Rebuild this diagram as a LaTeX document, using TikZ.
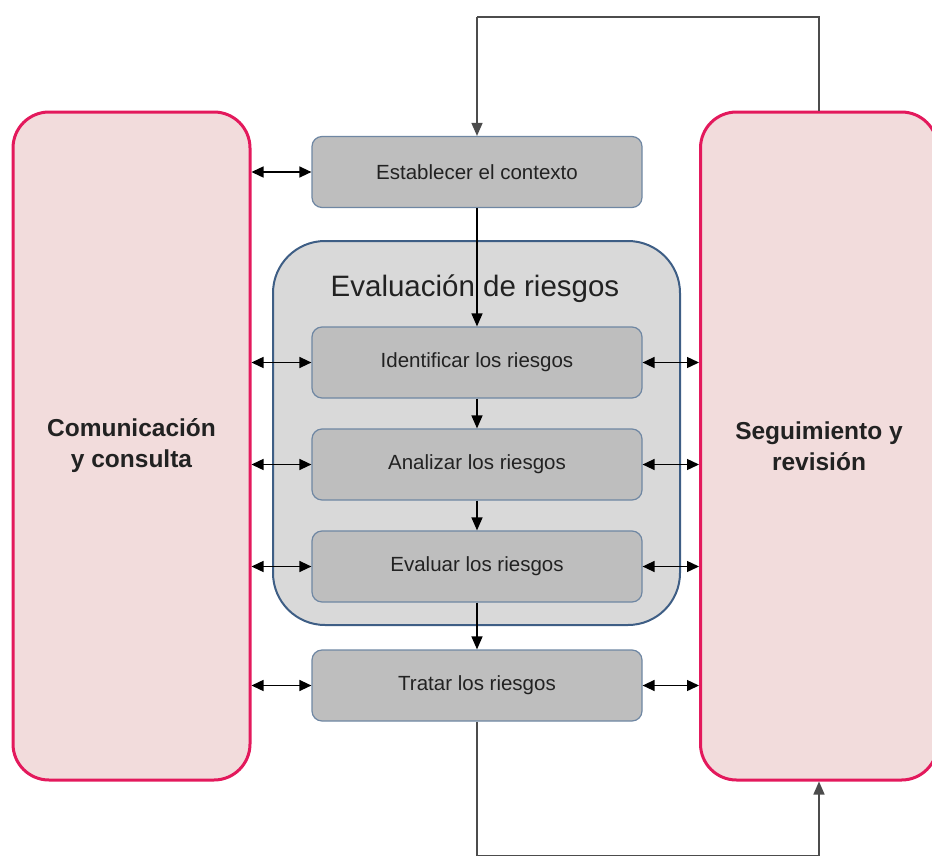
\documentclass[tikz,border=0pt]{standalone}
\usepackage{fontspec}
\setmainfont{Liberation Sans}
\usetikzlibrary{arrows.meta,positioning,calc}
\definecolor{pinkline}{HTML}{E3195C}
\definecolor{pinkfill}{HTML}{F2DCDC}
\definecolor{grayfill}{HTML}{BEBEBE}
\definecolor{grayline}{HTML}{6F87A3}
\definecolor{contfill}{HTML}{D9D9D9}
\definecolor{contline}{HTML}{3E5E85}
\definecolor{txt}{HTML}{222222}
\tikzset{
  sidebox/.style={draw=pinkline, line width=3pt, fill=pinkfill, rounded corners=36pt,
    minimum width=237pt, minimum height=668pt, inner sep=0pt, align=center,
    font=\fontsize{24.5}{31}\selectfont\bfseries, text=txt},
  stepbox/.style={draw=grayline, line width=1.2pt, fill=grayfill, rounded corners=10pt,
    minimum width=330pt, minimum height=71pt, inner sep=0pt,
    font=\fontsize{20.5}{24}\selectfont, text=txt},
  container/.style={draw=contline, line width=2pt, fill=contfill, rounded corners=52pt,
    minimum width=407pt, minimum height=384pt, inner sep=0pt},
  flow/.style={draw=black, line width=1.4pt, -{Triangle[length=13pt,width=11pt]}},
  both/.style={draw=black, line width=1.4pt, {Triangle[length=12pt,width=11pt]}-{Triangle[length=12pt,width=11pt]}},
  loop/.style={draw=black!70, line width=1.5pt},
}
\begin{document}
\begin{tikzpicture}[x=1pt,y=-1pt]
\useasboundingbox (0,0) rectangle (932,857);
\node[sidebox] (com) at (131.5,446) {Comunicación\\y consulta};
\node[sidebox] (seg) at (819,446) {Seguimiento y\\revisión};
\node[container] (eval) at (476.5,433) {};
\node[font=\fontsize{29.5}{32}\selectfont, text=txt] (title) at (475,289) {Evaluación de riesgos};
\node[stepbox] (ctx) at (477,172) {Establecer el contexto};
\node[stepbox] (ident) at (477,362.5) {Identificar los riesgos};
\node[stepbox] (anal) at (477,464.5) {Analizar los riesgos};
\node[stepbox] (evalr) at (477,566.5) {Evaluar los riesgos};
\node[stepbox] (trat) at (477,685.5) {Tratar los riesgos};
\coordinate (tl) at (477,17);
\coordinate (tr) at (819,17);
\coordinate (bl) at (477,855.5);
\coordinate (br) at (819,855.5);
% flow
\draw[flow] (ctx.south) -- (ident.north);
\draw[flow] (ident.south) -- (anal.north);
\draw[flow] (anal.south) -- (evalr.north);
\draw[flow] (evalr.south) -- (trat.north);
% loops
\draw[loop] (seg.north) -- (tr) -- (tl);
\draw[flow, draw=black!70, line width=1.5pt] (tl) -- (ctx.north);
\draw[loop] (trat.south) -- (bl) -- (br);
\draw[flow, draw=black!70, line width=1.5pt] (br) -- (seg.south);
% side arrows
\foreach \n in {ctx,ident,anal,evalr,trat}{
  \draw[both] (com.east |- \n.west) -- (\n.west);
}
\foreach \n in {ident,anal,evalr,trat}{
  \draw[both] (\n.east) -- (seg.west |- \n.east);
}
\end{tikzpicture}
\end{document}
